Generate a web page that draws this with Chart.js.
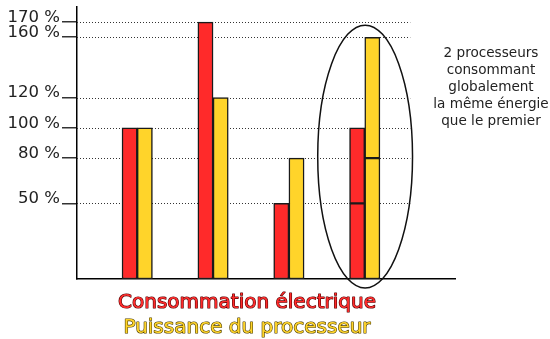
<!DOCTYPE html>
<html>
<head>
<meta charset="utf-8">
<script src="https://cdn.jsdelivr.net/npm/chart.js@4/dist/chart.umd.min.js"></script>
<style>
  html, body { margin: 0; padding: 0; background: #fff; }
  #wrap { width: 550px; height: 339px; }
</style>
</head>
<body>
<div id="wrap"><canvas id="chart" width="550" height="339"></canvas></div>
<script>
// groups along the x axis (1 = reference processor, 4 = the two processors)
const groups = [1, 2, 3, 4];
const consumption = [100, 170, 50, 50];
const consumptionSecond = [null, null, null, 50];
const power = [100, 120, 80, 80];
const powerSecond = [null, null, null, 80];
const yTicks = [50, 80, 100, 120, 160, 170];
const noteLines = ["2 processeurs", "consommant", "globalement", "la même énergie", "que le premier"];
const legendLines = ["Consommation électrique", "Puissance du processeur"];

const red = "#ff2a2a";
const yellow = "#ffd42a";

function pts(vals) {
  return vals.map((v, i) => ({ x: groups[i], y: v }));
}

const extras = {
  id: "extras",
  beforeDatasetsDraw(chart) {
    const { ctx, chartArea, scales } = chart;
    const xEnd = scales.x.getPixelForValue(4.6);
    ctx.save();
    ctx.strokeStyle = "#333";
    ctx.lineWidth = 1;
    ctx.setLineDash([1, 2]);
    yTicks.forEach((v) => {
      const y = Math.round(scales.y.getPixelForValue(v)) + 0.5;
      ctx.beginPath();
      ctx.moveTo(chartArea.left, y);
      ctx.lineTo(xEnd, y);
      ctx.stroke();
    });
    ctx.restore();
  },
  afterDraw(chart) {
    const { ctx, scales } = chart;
    const x = scales.x, y = scales.y;
    ctx.save();
    // ellipse round the last group
    const cx = x.getPixelForValue(4.005);
    const cy = y.getPixelForValue(81);
    const rx = x.getPixelForValue(4.63) - cx;
    const ry = cy - y.getPixelForValue(168);
    ctx.strokeStyle = "#111";
    ctx.lineWidth = 1.5;
    ctx.beginPath();
    ctx.ellipse(cx, cy, rx, ry, 0, 0, Math.PI * 2);
    ctx.stroke();

    // note on the right
    ctx.fillStyle = "#222";
    ctx.font = "13.6px 'DejaVu Sans'";
    ctx.textAlign = "center";
    ctx.textBaseline = "middle";
    noteLines.forEach((t, i) => ctx.fillText(t, 491, 53 + i * 17));

    // legend under the chart
    ctx.font = "20px 'DejaVu Sans'";
    ctx.lineJoin = "round";
    const fills = [red, yellow];
    const strokes = ["#500000", "#4a3c00"];
    legendLines.forEach((t, i) => {
      const ty = 303 + i * 25;
      ctx.lineWidth = 1.2;
      ctx.strokeStyle = strokes[i];
      ctx.strokeText(t, 247, ty);
      ctx.fillStyle = fills[i];
      ctx.fillText(t, 247, ty);
    });
    ctx.restore();
  }
};

const barStyle = { borderColor: "#1a1a1a", borderWidth: 1.5, borderSkipped: false, barThickness: 15.2 };

new Chart(document.getElementById("chart"), {
  type: "bar",
  data: {
    datasets: [
      { label: legendLines[0], data: pts(consumption), backgroundColor: red, stack: "c", ...barStyle },
      { label: legendLines[0], data: pts(consumptionSecond), backgroundColor: red, stack: "c", ...barStyle },
      { label: legendLines[1], data: pts(power), backgroundColor: yellow, stack: "p", ...barStyle },
      { label: legendLines[1], data: pts(powerSecond), backgroundColor: yellow, stack: "p", ...barStyle }
    ]
  },
  options: {
    responsive: false,
    animation: false,
    layout: { padding: { top: 7, right: 95, left: 0, bottom: 0 } },
    plugins: { legend: { display: false }, tooltip: { enabled: false } },
    scales: {
      x: {
        type: "linear",
        min: 0.206,
        max: 5.19,
        offset: false,
        afterBuildTicks(s) { s.ticks = groups.map((v) => ({ value: v })); },
        ticks: { display: false },
        grid: { display: false },
        border: { display: true, color: "#000", width: 1.5 },
        afterFit(s) { s.height = 60; }
      },
      y: {
        min: 0,
        max: 180,
        stacked: true,
        afterBuildTicks(s) { s.ticks = yTicks.map((v) => ({ value: v })); },
        ticks: {
          autoSkip: false,
          padding: 2,
          labelOffset: -4.5,
          color: "#222",
          font: { family: "DejaVu Sans", size: 16.5 },
          callback: (v) => v + " %"
        },
        grid: { display: true, drawOnChartArea: false, drawTicks: true, tickLength: 15, color: "#333", lineWidth: 1.5 },
        border: { display: true, color: "#000", width: 1.5 },
        afterFit(s) { s.width = 77; s.paddingTop = 0; s.paddingBottom = 0; }
      }
    }
  },
  plugins: [extras]
});
</script>
</body>
</html>
